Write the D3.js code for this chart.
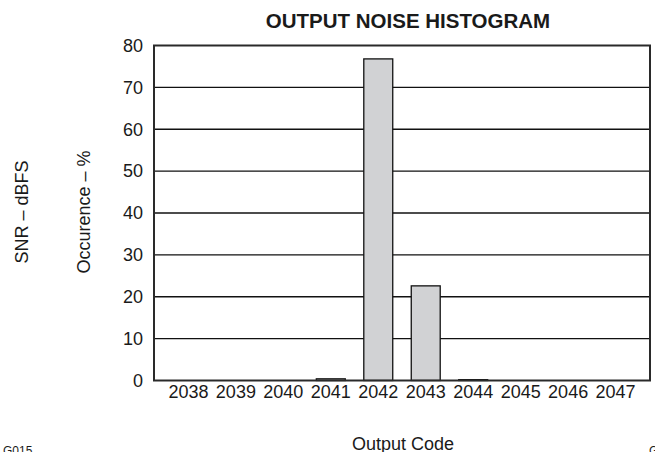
<!DOCTYPE html>
<html lang="en">
<head>
	<meta charset="UTF-8" />
	<script src="https://d3js.org/d3.v7.min.js"></script>
	<title>Output Noise Histogram</title>
	<style>
		body { margin: 0; background: #fff; }
		text { font-family: "Liberation Sans", Arial, Helvetica, sans-serif; fill: #1a1a1a; }
	</style>
</head>
<body>
	<script>
		// data
		var codes = ["2038", "2039", "2040", "2041", "2042", "2043", "2044", "2045", "2046", "2047"];
		var occurence = [0, 0, 0, 0.4, 76.8, 22.6, 0.2, 0, 0, 0];
		var yTicks = [0, 10, 20, 30, 40, 50, 60, 70, 80];

		var w = 655;
		var h = 452;

		// plot frame (note: "top" is taken by window.top)
		var plotLeft = 154, plotRight = 650, plotTop = 45.5, plotBottom = 380.5;

		var svg = d3.select("body")
			.append("svg")
			.attr("width", w)
			.attr("height", h);

		var x = d3.scaleBand()
			.domain(codes)
			.range([plotLeft, plotRight])
			.paddingInner(0.39)
			.paddingOuter(0.42);

		var y = d3.scaleLinear()
			.domain([0, 80])
			.range([plotBottom, plotTop]);

		// grid lines
		svg.selectAll("line.grid")
			.data(yTicks.slice(1, -1))
			.enter()
			.append("line")
			.attr("class", "grid")
			.attr("x1", plotLeft)
			.attr("x2", plotRight)
			.attr("y1", function (d) { return y(d); })
			.attr("y2", function (d) { return y(d); })
			.attr("stroke", "#111")
			.attr("stroke-width", 1.3);

		// bars
		svg.selectAll("rect.bar")
			.data(codes.map(function (c, i) { return { code: c, v: occurence[i] }; }).filter(function (d) { return d.v > 0; }))
			.enter()
			.append("rect")
			.attr("class", "bar")
			.attr("x", function (d) { return x(d.code); })
			.attr("width", x.bandwidth())
			.attr("y", function (d) { return y(d.v); })
			.attr("height", function (d) { return y(0) - y(d.v); })
			.attr("fill", "#d1d2d4")
			.attr("stroke", "#111")
			.attr("stroke-width", 1.3);

		// frame
		svg.append("rect")
			.attr("x", plotLeft)
			.attr("y", plotTop)
			.attr("width", plotRight - plotLeft)
			.attr("height", plotBottom - plotTop)
			.attr("fill", "none")
			.attr("stroke", "#2a2a2a")
			.attr("stroke-width", 2);

		// y axis labels
		var yAxis = d3.axisLeft(y)
			.tickValues(yTicks)
			.tickSize(0)
			.tickPadding(11);

		svg.append("g")
			.attr("transform", "translate(" + plotLeft + ",0)")
			.call(yAxis)
			.call(function (g) { g.select(".domain").remove(); })
			.selectAll("text")
			.style("font-size", "18px")
			.attr("fill", "#1a1a1a");

		// x axis labels
		var xAxis = d3.axisBottom(x)
			.tickSize(0)
			.tickPadding(5);

		svg.append("g")
			.attr("transform", "translate(0," + plotBottom + ")")
			.call(xAxis)
			.call(function (g) { g.select(".domain").remove(); })
			.selectAll("text")
			.style("font-size", "18px")
			.attr("fill", "#1a1a1a");

		// title
		svg.append("text")
			.attr("x", 408)
			.attr("y", 28)
			.attr("text-anchor", "middle")
			.style("font-size", "20.5px")
			.style("font-weight", "bold")
			.text("OUTPUT NOISE HISTOGRAM");

		// axis titles
		svg.append("text")
			.attr("transform", "translate(28,212) rotate(-90)")
			.attr("text-anchor", "middle")
			.style("font-size", "18px")
			.text("SNR \u2013 dBFS");

		svg.append("text")
			.attr("transform", "translate(90,212) rotate(-90)")
			.attr("text-anchor", "middle")
			.style("font-size", "18px")
			.text("Occurence \u2013 %");

		svg.append("text")
			.attr("x", 403)
			.attr("y", 450)
			.attr("text-anchor", "middle")
			.style("font-size", "18px")
			.text("Output Code");

		// figure codes, cut by the edge as in the source
		svg.append("text")
			.attr("x", 3)
			.attr("y", 455)
			.style("font-size", "12px")
			.text("G015");

		svg.append("text")
			.attr("x", 649)
			.attr("y", 455)
			.style("font-size", "12px")
			.text("G016");
	</script>
</body>
</html>
